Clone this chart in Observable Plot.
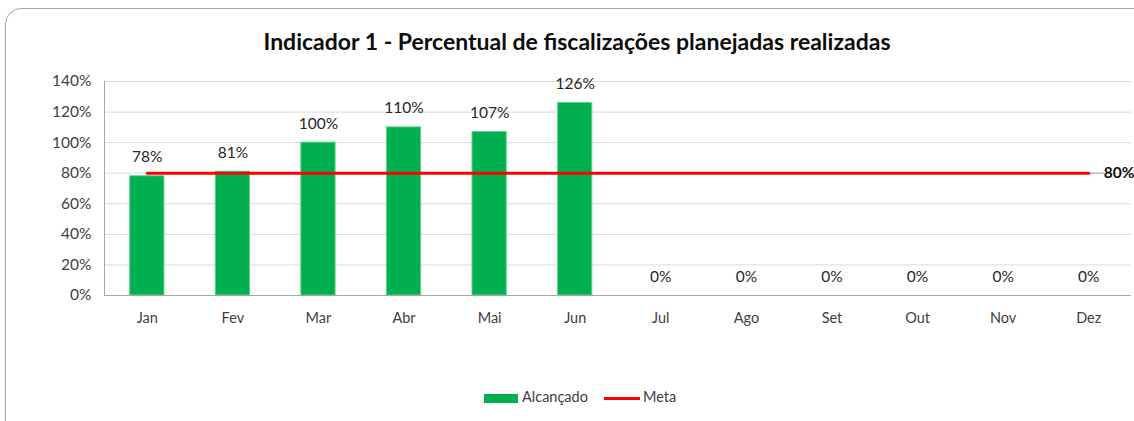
<!DOCTYPE html>
<html>
<head>
<meta charset="utf-8">
<script src="https://cdn.jsdelivr.net/npm/d3@7"></script>
<script src="https://cdn.jsdelivr.net/npm/@observablehq/plot@0.6"></script>
<style>
  html, body { margin: 0; padding: 0; background: #fff; }
  #wrap { position: relative; width: 1134px; height: 421px; overflow: hidden; font-family: Lato, "Open Sans", sans-serif; }
  #border { position: absolute; left: 5px; top: 8px; width: 1160px; height: 440px; border: 1px solid #a6a6a6; border-radius: 16px; box-sizing: border-box; }
  #title { position: absolute; left: 0; width: 1154px; top: 27px; text-align: center; font-size: 23px; font-weight: bold; color: #0d0d0d; }
  #chart { position: absolute; left: 0; top: 60px; }
  #legend { position: absolute; top: 388px; left: 0; width: 1134px; font-size: 14.5px; color: #404040; }
  .sw { position: absolute; }
</style>
</head>
<body>
<div id="wrap">
  <div id="border"></div>
  <div id="title">Indicador 1 - Percentual de fiscalizações planejadas realizadas</div>
  <div id="chart"></div>
  <div id="legend">
    <div class="sw" style="left:484px;top:6px;width:34px;height:9px;background:#00b050;"></div>
    <div class="sw" style="left:522px;top:0px;">Alcançado</div>
    <div class="sw" style="left:604px;top:9px;width:36px;height:3px;background:#ff0000;"></div>
    <div class="sw" style="left:643px;top:0px;">Meta</div>
  </div>
</div>
<script>
const months = ["Jan","Fev","Mar","Abr","Mai","Jun","Jul","Ago","Set","Out","Nov","Dez"];
const alcancado = [78, 81, 100, 110, 107, 126, 0, 0, 0, 0, 0, 0];
const meta = 80;
const yTicks = [0, 20, 40, 60, 80, 100, 120, 140];

const data = months.map((m, i) => ({month: m, value: alcancado[i], meta}));
const last = [data[data.length - 1]];

const W = 1134, mL = 104, mR = 3;
const step = (W - mL - mR) / months.length;

const chart = Plot.plot({
  width: W,
  height: 270,
  marginLeft: mL,
  marginRight: mR,
  marginTop: 21,
  marginBottom: 35,
  style: {fontFamily: "Lato, 'Open Sans', sans-serif", overflow: "visible"},
  x: {domain: months, paddingInner: 0.6, paddingOuter: 0.3, round: false, label: null},
  y: {domain: [0, 140], label: null},
  marks: [
    Plot.ruleY(yTicks.filter(d => d > 0), {stroke: "#d9d9d9", strokeWidth: 1}),
    Plot.ruleX([months[0]], {dx: -step / 2, stroke: "#a6a6a6"}),
    Plot.barY(data, {x: "month", y: "value", fill: "#00b050", stroke: "#5fd08e", strokeWidth: 1}),
    Plot.ruleY([0], {stroke: "#a6a6a6"}),
    Plot.axisY({ticks: yTicks, tickSize: 0, tickPadding: 13, tickFormat: d => d + "%", fontSize: 15.5, fill: "#404040"}),
    Plot.axisX({tickSize: 0, tickPadding: 17, fontSize: 14.5, fill: "#404040"}),
    Plot.tickY(last, {x: "month", y: "meta", stroke: "#a6a6a6", dx: step * 0.2, insetRight: step * 0.22}),
    Plot.line(data, {x: "month", y: "meta", stroke: "#ff0000", strokeWidth: 3}),
    Plot.text(data, {x: "month", y: "value", text: d => d.value + "%", dy: -14, lineAnchor: "bottom", fontSize: 15.5, fill: "#262626"}),
    Plot.text(last, {x: "month", y: "meta", text: d => d.meta + "%", dx: 15, textAnchor: "start", fontSize: 15.5, fontWeight: "bold", fill: "#0d0d0d"})
  ]
});
document.getElementById("chart").appendChild(chart);
</script>
</body>
</html>
